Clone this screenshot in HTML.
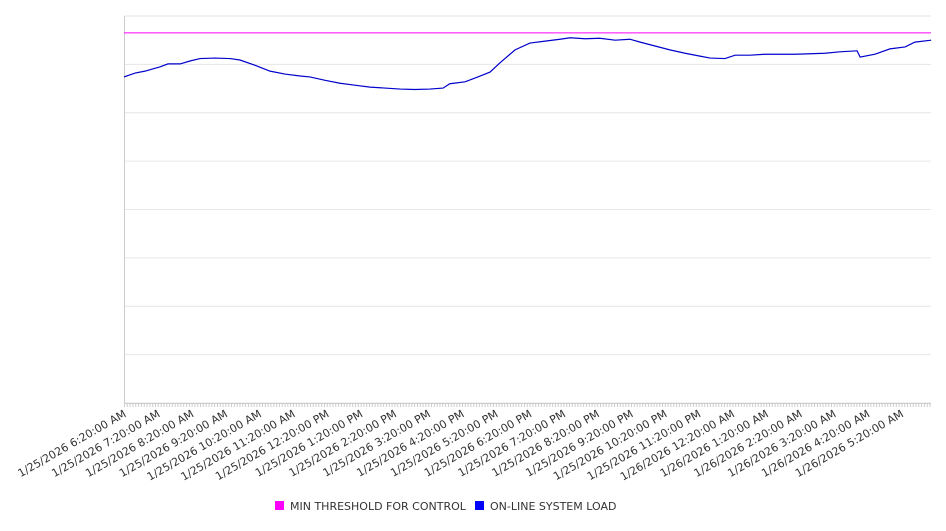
<!DOCTYPE html>
<html><head><meta charset="utf-8"><style>
body{margin:0;background:#fff;width:946px;height:526px;overflow:hidden;font-family:"Liberation Sans","DejaVu Sans",sans-serif}
svg text{font-family:"DejaVu Sans","Liberation Sans",sans-serif;fill:#333}
</style></head><body>
<svg id="chart" width="946" height="526" xmlns="http://www.w3.org/2000/svg"></svg>
<script>
const hours=[0,.33,.62,1.07,1.3,1.66,1.95,2.25,2.69,3.14,3.43,3.88,4.32,4.76,5.21,5.5,5.95,6.39,6.83,7.28,7.72,8.17,8.61,9.05,9.44,9.64,10.09,10.47,10.83,11.12,11.57,12.01,12.46,12.9,13.2,13.64,14.08,14.53,14.97,15.27,15.71,16.15,16.6,17.04,17.34,17.78,18.08,18.52,18.96,19.41,19.85,20.3,20.74,21.18,21.69,21.78,22.22,22.66,23.11,23.4,23.88];
const loadValues=[674,682,686,695,701,701,707,712,713,712,709,698,686,680,676,674,667,661,657,653,651,649,648,649,651,660,664,674,684,703,730,744,748,752,755,753,754,750,752,746,738,730,723,717,713,712,719,719,721,721,721,722,723,726,728,715,721,732,736,746,750];
const thresholdValue=765;
const tickLabels=["1/25/2026 6:20:00 AM","1/25/2026 7:20:00 AM","1/25/2026 8:20:00 AM","1/25/2026 9:20:00 AM","1/25/2026 10:20:00 AM","1/25/2026 11:20:00 AM","1/25/2026 12:20:00 PM","1/25/2026 1:20:00 PM","1/25/2026 2:20:00 PM","1/25/2026 3:20:00 PM","1/25/2026 4:20:00 PM","1/25/2026 5:20:00 PM","1/25/2026 6:20:00 PM","1/25/2026 7:20:00 PM","1/25/2026 8:20:00 PM","1/25/2026 9:20:00 PM","1/25/2026 10:20:00 PM","1/25/2026 11:20:00 PM","1/26/2026 12:20:00 AM","1/26/2026 1:20:00 AM","1/26/2026 2:20:00 AM","1/26/2026 3:20:00 AM","1/26/2026 4:20:00 AM","1/26/2026 5:20:00 AM"];
const yGridValues=[0,100,200,300,400,500,600,700,800];
const L=124,R=931,T=16,B=403,HW=33.8,YMAX=800;
const xs=h=>L+h*HW, ys=v=>B-v*(B-T)/YMAX;
const svg=document.getElementById('chart'),NS='http://www.w3.org/2000/svg';
function mk(t,a,p){const e=document.createElementNS(NS,t);for(const k in a)e.setAttribute(k,a[k]);(p||svg).appendChild(e);return e;}
yGridValues.forEach(v=>{const g=mk('line',{x1:L,x2:R,y1:ys(v),y2:ys(v),stroke:'#e6e6e6','stroke-width':1});

});
const ax=mk('line',{x1:L+.5,x2:L+.5,y1:T,y2:B,stroke:'#ccc'});


const xa=mk('line',{x1:L,x2:R,y1:B+.5,y2:B+.5,stroke:'#ccc'});


for(let h=0;h<=23.9;h+=1/12){mk('line',{x1:xs(h)+.5,x2:xs(h)+.5,y1:B,y2:B+4,stroke:'#ccc'});}
tickLabels.forEach((s,i)=>{const t=mk('text',{x:xs(i)+3,y:B+13,'font-size':11,'text-anchor':'end',transform:`rotate(-30 ${xs(i)+3} ${B+13})`});t.textContent=s;

});
const th=mk('line',{x1:L,x2:R,y1:ys(thresholdValue),y2:ys(thresholdValue),stroke:'#ff00ff','stroke-width':1});


const pl=mk('polyline',{points:hours.map((h,i)=>xs(h)+','+ys(loadValues[i])).join(' '),fill:'none',stroke:'#0000cc','stroke-width':1.2});


const lg=mk('g',{});


[['#ff00ff',275,'MIN THRESHOLD FOR CONTROL'],['#0000ff',475,'ON-LINE SYSTEM LOAD']].forEach(([c,x,s])=>{
const g=mk('g',{},lg);


mk('rect',{x:x,y:501,width:9,height:9,fill:c},g);
const t=mk('text',{x:x+15,y:510,'font-size':11},g);t.textContent=s;});
</script>
</body></html>
